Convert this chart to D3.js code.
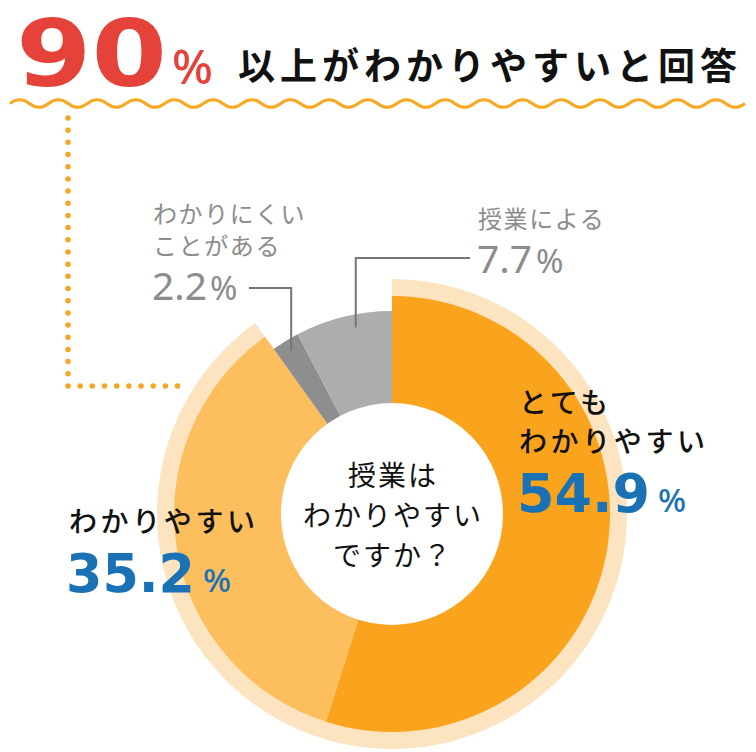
<!DOCTYPE html>
<html><head><meta charset="utf-8">
<script src="https://cdn.jsdelivr.net/npm/d3@7"></script>
<style>body{margin:0;background:#fff}svg{display:block}</style>
</head><body>
<svg id="chart" width="756" height="752"></svg>
<script>
// ---- data ----
const categories = [["とても","わかりやすい"], ["わかりやすい"], ["わかりにくい","ことがある"], ["授業による"]];
const values = [54.9, 35.2, 2.2, 7.7];
const valueLabels = ["54.9", "35.2", "2.2", "7.7"];
const headline = ["90", "%", "以上がわかりやすいと回答"];
const centerLines = ["授業は", "わかりやすい", "ですか？"];

// ---- style ----
const colors = ["#FAA41E", "#FDBE5E", "#8E8E8E", "#ADADAD"];
const paleColor = "#FDE4C1";
const blue = "#1A72B5";
const red = "#E5423A";
const grayText = "#8C8C8C";
const JP = "'Noto Sans CJK JP', 'Noto Sans', sans-serif";

const svg = d3.select("#chart");
const cx = 392, cy = 514;
const rInner = 110;
const outerR = [218, 218, 203, 203];

// ---- headline ----
const head = svg.append("g");
head.append("text").attr("x", 16).attr("y", 86)
  .attr("font-family", "'DejaVu Sans', sans-serif").attr("font-weight", 700)
  .attr("font-size", 92).attr("fill", red).attr("textLength", 151).attr("lengthAdjust", "spacingAndGlyphs")
  .text(headline[0]);
head.append("text").attr("x", 172).attr("y", 84)
  .attr("font-family", "'Noto Sans', sans-serif").attr("font-weight", 500)
  .attr("font-size", 48).attr("fill", red).attr("textLength", 41).attr("lengthAdjust", "spacingAndGlyphs")
  .text(headline[1]);
head.append("text").attr("x", 238).attr("y", 80)
  .attr("font-family", JP).attr("font-weight", 700)
  .attr("font-size", 37).attr("letter-spacing", 5).attr("fill", "#111")
  .text(headline[2]);

// wavy underline
(function(){
  const x0 = 10, x1 = 745, n = 19, yc = 103.5, a = 3.8;
  const p = (x1 - x0) / n;
  let d = `M${x0},${yc}`;
  for (let i = 0; i < n; i++) {
    const s = x0 + i * p;
    d += ` Q${s + p/4},${yc - a*2} ${s + p/2},${yc} Q${s + 3*p/4},${yc + a*2} ${s + p},${yc}`;
  }
  svg.append("path").attr("d", d).attr("fill", "none").attr("stroke", "#F8A823").attr("stroke-width", 3);
})();

// dotted connector
svg.append("path").attr("d", "M68,118 V386 H178")
  .attr("fill", "none").attr("stroke", "#F5A623").attr("stroke-width", 5.5)
  .attr("stroke-linecap", "round").attr("stroke-dasharray", "0,12.18");

// ---- donut ----
const pie = d3.pie().sort(null).value(d => d)(values);
const g = svg.append("g").attr("transform", `translate(${cx},${cy})`);

// highlight ring behind the two "understandable" slices
g.append("path")
  .attr("d", d3.arc().innerRadius(rInner).outerRadius(235)
    .startAngle(pie[0].startAngle).endAngle(pie[1].endAngle)())
  .attr("fill", paleColor);

g.selectAll("path.slice").data(pie).join("path").attr("class", "slice")
  .attr("d", (d, i) => d3.arc().innerRadius(rInner).outerRadius(outerR[i])(d))
  .attr("fill", (d, i) => colors[i]);

g.append("circle").attr("r", rInner + 1).attr("fill", "#fff");

// center text
g.selectAll("text.center").data(centerLines).join("text").attr("class", "center")
  .attr("x", 1).attr("y", (d, i) => -28 + i * 40)
  .attr("text-anchor", "middle").attr("font-family", JP).attr("font-weight", 400)
  .attr("font-size", 28).attr("letter-spacing", 2).attr("fill", "#111")
  .text(d => d);

// ---- leader lines for small slices ----
function anglePoint(a, r) { return [cx + r * Math.sin(a), cy - r * Math.cos(a)]; }
const mid2 = (pie[2].startAngle + pie[2].endAngle) / 2;
const mid3 = (pie[3].startAngle + pie[3].endAngle) / 2;
const p2 = anglePoint(mid2, 192);
const p3 = anglePoint(mid3 + 0.05, 190);
svg.append("path").attr("d", `M${p2[0]},${p2[1]} V288 H249`)
  .attr("fill", "none").attr("stroke", "#767676").attr("stroke-width", 2);
svg.append("path").attr("d", `M${p3[0]},${p3[1]} V258 H470`)
  .attr("fill", "none").attr("stroke", "#767676").attr("stroke-width", 2);

// ---- labels ----
function grayLabel(lines, x, ys, val, vy, pctDx) {
  lines.forEach((t, i) => svg.append("text").attr("x", x).attr("y", ys[i])
    .attr("font-family", JP).attr("font-weight", 400).attr("font-size", 24)
    .attr("letter-spacing", 1.6).attr("fill", grayText).text(t));
  const t = svg.append("text").attr("x", x - 1).attr("y", vy).attr("fill", grayText)
    .attr("font-family", "'Noto Sans', sans-serif").attr("font-weight", 400);
  t.append("tspan").attr("font-size", 39).text(val);
  t.append("tspan").attr("font-size", 33).attr("dx", pctDx).text("%");
}
grayLabel(categories[2], 153, [223, 255], valueLabels[2], 300, 3);
grayLabel(categories[3], 478, [228], valueLabels[3], 273, 4);

function bigLabel(lines, x, ys, val, vx, vy, len) {
  lines.forEach((t, i) => svg.append("text").attr("x", x).attr("y", ys[i])
    .attr("font-family", JP).attr("font-weight", 500).attr("font-size", 28)
    .attr("letter-spacing", 3.6).attr("fill", "#111").text(t));
  svg.append("text").attr("x", vx).attr("y", vy).attr("fill", blue)
    .attr("font-family", "'DejaVu Sans', sans-serif").attr("font-weight", 700)
    .attr("font-size", 54).attr("textLength", len).attr("lengthAdjust", "spacingAndGlyphs")
    .text(val);
  svg.append("text").attr("x", vx + len + 8).attr("y", vy).attr("fill", blue)
    .attr("font-family", "'Noto Sans', sans-serif").attr("font-weight", 500)
    .attr("font-size", 33).text("%");
}
bigLabel(categories[0], 519, [413, 452], valueLabels[0], 517, 512, 133);
bigLabel(categories[1], 69, [532], valueLabels[1], 66, 592, 129);
</script>
</body></html>
